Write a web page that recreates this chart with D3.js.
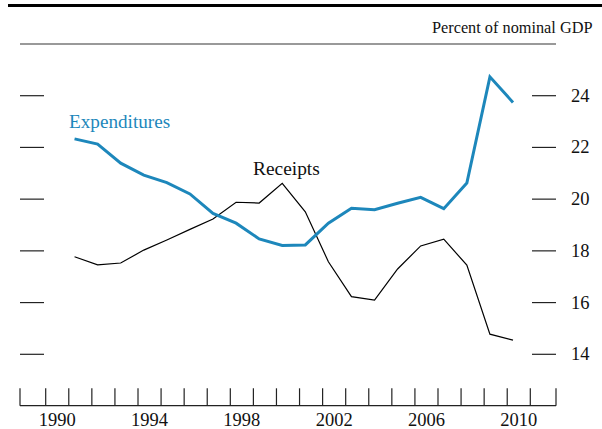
<!DOCTYPE html>
<html>
<head>
<meta charset="utf-8">
<script src="https://cdn.jsdelivr.net/npm/d3@7"></script>
<style>
  body { margin: 0; background: #fff; }
  text { font-family: "Liberation Serif", "Times New Roman", serif; fill: #111; }
</style>
</head>
<body>
<div id="chart"></div>
<script>
// fiscal years, plotted at mid-fiscal-year
var years = [1991,1992,1993,1994,1995,1996,1997,1998,1999,2000,
             2001,2002,2003,2004,2005,2006,2007,2008,2009,2010];
var expenditures = [22.33,22.13,21.39,20.93,20.64,20.20,19.45,19.07,18.46,18.21,
                    18.23,19.07,19.65,19.59,19.84,20.07,19.63,20.62,24.73,23.74];
var receipts = [17.77,17.46,17.53,18.03,18.42,18.83,19.23,19.88,19.85,20.61,
                19.51,17.58,16.23,16.10,17.30,18.19,18.45,17.45,14.78,14.55];
var yTicks = [14,16,18,20,22,24];
var xTickYears = d3.range(1990, 2012);
var xLabels = [1990,1994,1998,2002,2006,2010];

var width = 602, height = 429;
var blue = "#1d87bb";

var svg = d3.select("#chart").append("svg")
  .attr("width", width)
  .attr("height", height);

var x = d3.scaleLinear().domain([1990, 2011]).range([45.7, 530.3]);
var y = d3.scaleLinear().domain([14, 24]).range([354.3, 95.7]);
var left = 20, right = 556, base = 405.7;

// top rule
svg.append("line")
  .attr("x1", 8).attr("x2", width)
  .attr("y1", 5.5).attr("y2", 5.5)
  .style("stroke", "#000").style("stroke-width", 3);

svg.append("text")
  .attr("x", 592.5).attr("y", 33)
  .attr("text-anchor", "end")
  .style("font-size", "16.3px")
  .text("Percent of nominal GDP");

svg.append("line")
  .attr("x1", left).attr("x2", right)
  .attr("y1", 44).attr("y2", 44)
  .style("stroke", "#777").style("stroke-width", 1.5);

// y ticks both sides
var yt = svg.append("g").selectAll("g").data(yTicks).enter().append("g");
yt.append("line")
  .attr("x1", left).attr("x2", 44)
  .attr("y1", function(d){ return y(d); }).attr("y2", function(d){ return y(d); })
  .style("stroke", "#222").style("stroke-width", 1.2);
yt.append("line")
  .attr("x1", 532).attr("x2", right)
  .attr("y1", function(d){ return y(d); }).attr("y2", function(d){ return y(d); })
  .style("stroke", "#222").style("stroke-width", 1.2);
yt.append("text")
  .attr("x", 571).attr("y", function(d){ return y(d) + 6; })
  .style("font-size", "18.5px")
  .text(function(d){ return d; });

// x axis
svg.append("line")
  .attr("x1", left).attr("x2", right)
  .attr("y1", base).attr("y2", base)
  .style("stroke", "#222").style("stroke-width", 1.2);
var xt = [x.invert(left)].concat(xTickYears).concat([x.invert(right)]);
svg.append("g").selectAll("line").data(xt).enter().append("line")
  .attr("x1", function(d){ return x(d); }).attr("x2", function(d){ return x(d); })
  .attr("y1", 388.3).attr("y2", base)
  .style("stroke", "#222").style("stroke-width", 1.2);
svg.append("g").selectAll("text").data(xLabels).enter().append("text")
  .attr("x", function(d){ return x(d + 0.5); })
  .attr("y", 426)
  .attr("text-anchor", "middle")
  .style("font-size", "18.5px")
  .text(function(d){ return d; });

// series
var line = d3.line()
  .x(function(d, i){ return x(years[i] + 0.25); })
  .y(function(d){ return y(d); });

svg.append("path").datum(receipts)
  .attr("d", line)
  .style("fill", "none").style("stroke", "#000").style("stroke-width", 1.2);

svg.append("path").datum(expenditures)
  .attr("d", line)
  .style("fill", "none").style("stroke", blue).style("stroke-width", 3);

svg.append("text")
  .attr("x", 69).attr("y", 127.5)
  .style("font-size", "19.2px")
  .style("fill", blue)
  .text("Expenditures");

svg.append("text")
  .attr("x", 253).attr("y", 174.5)
  .style("font-size", "19.4px")
  .text("Receipts");
</script>
</body>
</html>
